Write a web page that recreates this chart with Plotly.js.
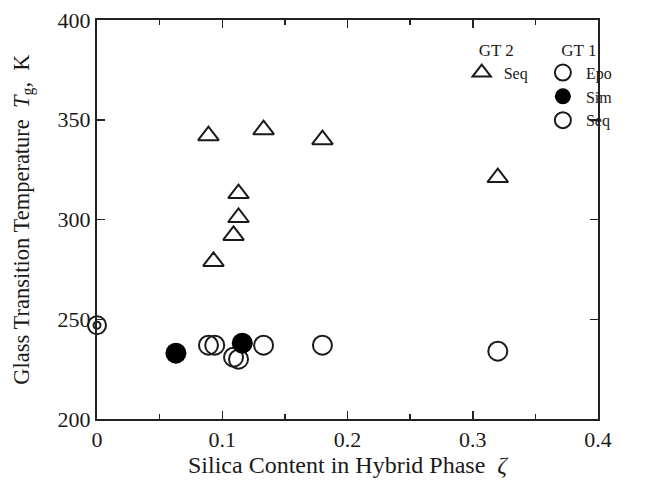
<!DOCTYPE html>
<html>
<head>
<meta charset="utf-8">
<script src="https://cdn.plot.ly/plotly-3.0.1.min.js"></script>
<style>html,body{margin:0;padding:0;background:#fff;}#chart{width:649px;height:480px;}</style>
</head>
<body>
<div id="chart"></div>
<script>
// GT 2 (sequential) data
var gt2SeqZeta = [0.089, 0.133, 0.180, 0.320, 0.113, 0.113, 0.109, 0.093];
var gt2SeqTg   = [342, 345, 340, 321, 313, 301, 292, 279];
// GT 1 data
var gt1EpoZeta = [0.0];
var gt1EpoTg   = [247];
var gt1SimZeta = [0.063, 0.116];
var gt1SimTg   = [233, 238];
var gt1SeqZeta = [0.089, 0.094, 0.109, 0.113, 0.133, 0.180, 0.320];
var gt1SeqTg   = [237, 237, 231, 230, 237, 237, 234];
// axis ticks
var xTicks = [0, 0.1, 0.2, 0.3, 0.4];
var xTickText = ['0', '0.1', '0.2', '0.3', '0.4'];
var yTicks = [200, 250, 300, 350, 400];

var ink = '#1a1a1a';
var serif = 'Liberation Serif, Times New Roman, serif';

var traces = [
  {x: gt2SeqZeta, y: gt2SeqTg, type: 'scatter', mode: 'markers', name: 'Seq',
   legend: 'legend',
   marker: {symbol: 'triangle-up-open', size: 18, color: ink, line: {width: 2, color: ink}}},
  {x: gt1SeqZeta, y: gt1SeqTg, type: 'scatter', mode: 'markers', name: 'Seq',
   legend: 'legend2', legendrank: 3,
   marker: {symbol: 'circle-open', size: 19, color: ink, line: {width: 2, color: ink}}},
  {x: gt1EpoZeta, y: gt1EpoTg, type: 'scatter', mode: 'markers', name: 'Epo',
   legend: 'legend2', legendrank: 1, cliponaxis: false,
   marker: {symbol: 'circle-open', size: 18, color: ink, line: {width: 2, color: ink}}},
  {x: gt1EpoZeta, y: gt1EpoTg, type: 'scatter', mode: 'markers', name: 'Epo', showlegend: false,
   legend: 'legend2', cliponaxis: false,
   marker: {symbol: 'circle-open', size: 7, color: ink, line: {width: 2, color: ink}}},
  {x: gt1SimZeta, y: gt1SimTg, type: 'scatter', mode: 'markers', name: 'Sim',
   legend: 'legend2', legendrank: 2,
   marker: {symbol: 'circle', size: 21, color: '#000', line: {width: 0}}}
];

var axisCommon = {
  showline: true, linecolor: '#222', linewidth: 2, mirror: 'allticks',
  ticks: 'inside', ticklen: 8, tickwidth: 1.5, tickcolor: '#222',
  showgrid: false, zeroline: false,
  tickfont: {family: serif, size: 22, color: ink}
};

var layout = {
  width: 649, height: 480,
  margin: {l: 97, r: 51, t: 20, b: 61},
  paper_bgcolor: '#fff', plot_bgcolor: '#fff',
  font: {family: serif, color: ink},
  showlegend: true,
  xaxis: Object.assign({}, axisCommon, {
    range: [0, 0.4], tickmode: 'array', tickvals: xTicks, ticktext: xTickText,
    minor: {dtick: 0.05, ticks: 'inside', ticklen: 5, tickwidth: 1.5, tickcolor: '#222', showgrid: false},
    title: {text: 'Silica Content in Hybrid Phase  <i>ζ</i>', font: {family: serif, size: 24, color: ink}, standoff: 0}
  }),
  yaxis: Object.assign({}, axisCommon, {
    range: [200, 400], tickmode: 'array', tickvals: yTicks,
    title: {text: 'Glass Transition Temperature  <i>T</i><sub>g</sub>,  K', font: {family: serif, size: 22.5, color: ink}, standoff: 22}
  }),
  legend: {
    x: 0.724, y: 0.966, xanchor: 'left', yanchor: 'top', bgcolor: 'rgba(0,0,0,0)',
    font: {family: serif, size: 16, color: ink}, tracegroupgap: 0, itemwidth: 34,
    title: {text: 'GT 2', side: 'top center', font: {family: serif, size: 17, color: ink}}
  },
  legend2: {
    x: 0.884, y: 0.966, xanchor: 'left', yanchor: 'top', bgcolor: 'rgba(0,0,0,0)',
    font: {family: serif, size: 16, color: ink}, tracegroupgap: 0, itemwidth: 36,
    title: {text: 'GT 1', side: 'top center', font: {family: serif, size: 17, color: ink}}
  }
};

Plotly.newPlot('chart', traces, layout, {displayModeBar: false, staticPlot: true});
</script>
</body>
</html>
